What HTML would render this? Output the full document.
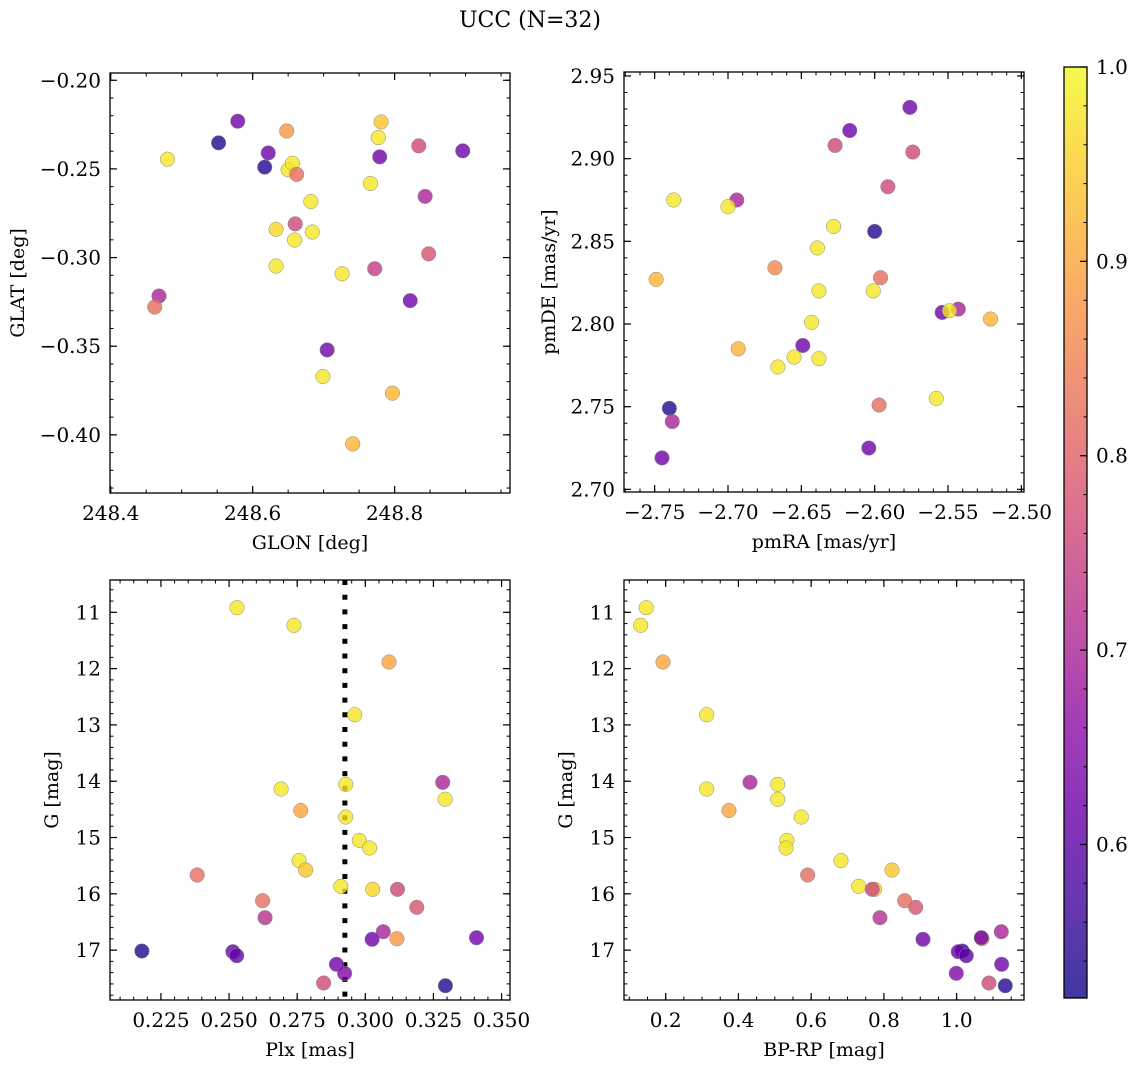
<!DOCTYPE html>
<html><head><meta charset="utf-8">
<style>
html,body{margin:0;padding:0;background:#fff;}
svg{display:block;font-family:"DejaVu Serif","Liberation Serif",serif;}
</style></head>
<body>
<svg id="fig" width="1136" height="1067" viewBox="0 0 1136 1067" xmlns="http://www.w3.org/2000/svg">
<text x="530" y="27" font-size="22" text-anchor="middle">UCC (N=32)</text>
</svg>
<script>
// ---- Panel 1 data: GLON vs GLAT ----
const glon = [248.480,248.552,248.579,248.617,248.622,248.648,248.650,248.656,248.662,248.633,248.633,248.660,248.659,248.682,248.684,248.726,248.699,248.705,248.741,248.766,248.772,248.777,248.781,248.779,248.797,248.834,248.843,248.848,248.822,248.896,248.468,248.462];
const glat = [-0.2445,-0.2353,-0.2231,-0.249,-0.241,-0.2286,-0.2505,-0.2468,-0.2531,-0.2841,-0.3048,-0.281,-0.2901,-0.2684,-0.2856,-0.3091,-0.3671,-0.3521,-0.4051,-0.2582,-0.3063,-0.2323,-0.2235,-0.2432,-0.3765,-0.237,-0.2655,-0.2979,-0.3243,-0.2398,-0.3217,-0.3279];
const prob1 = [0.98,0.54,0.62,0.54,0.62,0.88,0.98,0.98,0.82,0.96,0.98,0.76,0.98,0.98,0.98,0.98,0.98,0.62,0.92,0.98,0.74,0.98,0.94,0.62,0.92,0.76,0.70,0.78,0.62,0.62,0.70,0.82];
// ---- Panel 2 data: pmRA vs pmDE ----
const pmra = [-2.576,-2.617,-2.627,-2.574,-2.591,-2.737,-2.694,-2.700,-2.628,-2.600,-2.639,-2.668,-2.749,-2.596,-2.638,-2.601,-2.554,-2.543,-2.549,-2.521,-2.643,-2.649,-2.693,-2.655,-2.638,-2.666,-2.558,-2.597,-2.740,-2.738,-2.604,-2.745];
const pmde = [2.931,2.917,2.908,2.904,2.883,2.875,2.875,2.871,2.859,2.856,2.846,2.834,2.827,2.828,2.820,2.820,2.807,2.809,2.808,2.803,2.801,2.787,2.785,2.780,2.779,2.774,2.755,2.751,2.749,2.741,2.725,2.719];
const prob2 = [0.62,0.62,0.76,0.76,0.76,0.98,0.70,0.98,0.98,0.54,0.98,0.86,0.92,0.82,0.98,0.98,0.62,0.70,0.98,0.92,0.98,0.62,0.92,0.98,0.98,0.98,0.98,0.82,0.54,0.70,0.62,0.62];
// ---- Panels 3 & 4 data: Plx / BP-RP vs G ----
const plx = [0.2529,0.2738,0.3087,0.2961,0.3284,0.2928,0.2691,0.3293,0.2763,0.2928,0.2978,0.3016,0.2757,0.2781,0.2383,0.2910,0.3027,0.3118,0.3189,0.2623,0.2632,0.3066,0.3025,0.3116,0.3408,0.2180,0.2514,0.2528,0.2894,0.2924,0.2847,0.3294];
const gmag = [10.918,11.231,11.883,12.819,14.02,14.055,14.139,14.32,14.52,14.636,15.05,15.186,15.41,15.577,15.666,15.867,15.92,15.92,16.24,16.122,16.424,16.673,16.808,16.797,16.78,17.016,17.028,17.099,17.252,17.412,17.584,17.632];
const bprp = [0.1467,0.1313,0.1926,0.3127,0.4318,0.5079,0.3127,0.5079,0.374,0.5729,0.5335,0.5308,0.682,0.8222,0.5904,0.7306,0.7746,0.768,0.8874,0.8571,0.7892,1.1228,0.9075,1.0697,1.0678,1.0155,1.0045,1.0265,1.1238,0.999,1.0889,1.1337];
const prob3 = [0.98,0.98,0.90,0.98,0.70,0.98,0.98,0.98,0.90,0.98,0.98,0.98,0.98,0.94,0.82,0.98,0.96,0.76,0.78,0.82,0.72,0.70,0.62,0.88,0.62,0.54,0.62,0.60,0.62,0.64,0.76,0.54];
const plxLine = [0.2925];
// ---- tick arrays ----
const p1xTicks = [248.4,248.6,248.8];
const p1xLabels = ["248.4","248.6","248.8"];
const p1yTicks = [-0.20,-0.25,-0.30,-0.35,-0.40];
const p1yLabels = ["\u22120.20","\u22120.25","\u22120.30","\u22120.35","\u22120.40"];
const p2xTicks = [-2.75,-2.70,-2.65,-2.60,-2.55,-2.50];
const p2xLabels = ["\u22122.75","\u22122.70","\u22122.65","\u22122.60","\u22122.55","\u22122.50"];
const p2yTicks = [2.70,2.75,2.80,2.85,2.90,2.95];
const p2yLabels = ["2.70","2.75","2.80","2.85","2.90","2.95"];
const p3xTicks = [0.225,0.250,0.275,0.300,0.325,0.350];
const p3xLabels = ["0.225","0.250","0.275","0.300","0.325","0.350"];
const gTicks = [11,12,13,14,15,16,17];
const gLabels = ["11","12","13","14","15","16","17"];
const p4xTicks = [0.2,0.4,0.6,0.8,1.0];
const p4xLabels = ["0.2","0.4","0.6","0.8","1.0"];
const cbTicks = [0.6,0.7,0.8,0.9,1.0];
const cbLabels = ["0.6","0.7","0.8","0.9","1.0"];
const vmin = 0.521, vmax = 1.0;

const NS = "http://www.w3.org/2000/svg";
const svg = document.getElementById('fig');
function mk(tag, attrs, parent){
  const e = document.createElementNS(NS, tag);
  for (const k in attrs) e.setAttribute(k, attrs[k]);
  (parent||svg).appendChild(e);
  return e;
}
const stops = ["#0d0887","#41049d","#6a00a8","#8f0da4","#b12a90","#cc4778","#e16462","#f2844b","#fca636","#fcce25","#f0f921"];
function hex(h){return [parseInt(h.substr(1,2),16),parseInt(h.substr(3,2),16),parseInt(h.substr(5,2),16)];}
function plasma(v){
  let t=(v-vmin)/(vmax-vmin); t=Math.max(0,Math.min(1,t));
  const f=t*10, i=Math.min(9,Math.floor(f)), r=f-i;
  const a=hex(stops[i]), b=hex(stops[i+1]);
  return 'rgb('+a.map((c,k)=>Math.round(c+(b[k]-c)*r)).join(',')+')';
}
function linear(d0,d1,r0,r1){return v=>r0+(v-d0)/(d1-d0)*(r1-r0);}
const FS = 20;

function panel(cfg){
  const g = mk('g',{});
  
  
  const {x0,y0,w,h} = cfg;
  const sx = linear(cfg.xd[0],cfg.xd[1],x0,x0+w);
  const sy = linear(cfg.yd[0],cfg.yd[1],y0,y0+h);
  const mt = mk('g',{stroke:'#000','stroke-width':1},g);
  
  
  const xa=Math.min(cfg.xd[0],cfg.xd[1]), xb=Math.max(cfg.xd[0],cfg.xd[1]);
  for(let k=Math.ceil(xa/cfg.xm-1e-6);k*cfg.xm<=xb+1e-9;k++){
    const X=sx(k*cfg.xm);
    mk('line',{x1:X,x2:X,y1:y0+h,y2:y0+h-3.5},mt);
    mk('line',{x1:X,x2:X,y1:y0,y2:y0+3.5},mt);
  }
  const ya=Math.min(cfg.yd[0],cfg.yd[1]), yb=Math.max(cfg.yd[0],cfg.yd[1]);
  for(let k=Math.ceil(ya/cfg.ym-1e-6);k*cfg.ym<=yb+1e-9;k++){
    const Y=sy(k*cfg.ym);
    mk('line',{x1:x0,x2:x0+3.5,y1:Y,y2:Y},mt);
    mk('line',{x1:x0+w,x2:x0+w-3.5,y1:Y,y2:Y},mt);
  }
  cfg.xt.forEach((v,i)=>{
    const X=sx(v);
    mk('line',{x1:X,x2:X,y1:y0+h,y2:y0+h-7,stroke:'#000','stroke-width':1.2},g);
    mk('line',{x1:X,x2:X,y1:y0,y2:y0+7,stroke:'#000','stroke-width':1.2},g);
    const t=mk('text',{x:X,y:y0+h+27,'font-size':FS,'text-anchor':'middle'},g);
    
    
    t.textContent=cfg.xl[i];
  });
  cfg.yt.forEach((v,i)=>{
    const Y=sy(v);
    mk('line',{x1:x0,x2:x0+7,y1:Y,y2:Y,stroke:'#000','stroke-width':1.2},g);
    mk('line',{x1:x0+w,x2:x0+w-7,y1:Y,y2:Y,stroke:'#000','stroke-width':1.2},g);
    const t=mk('text',{x:x0-9,y:Y+7,'font-size':FS,'text-anchor':'end'},g);
    
    
    t.textContent=cfg.yl[i];
  });
  if(cfg.vline){
    cfg.vline.forEach(v=>{
      const l=mk('line',{x1:sx(v),x2:sx(v),y1:y0,y2:y0+h,stroke:'#000','stroke-width':5,'stroke-dasharray':'5 9.7'},g);
      
      
    });
  }
  cfg.xs.forEach((v,i)=>{
    const c=mk('circle',{cx:sx(v),cy:sy(cfg.ys[i]),r:7.3,fill:plasma(cfg.c[i]),'fill-opacity':0.8,stroke:'#888','stroke-width':0.5},g);
    
    
  });
  const fr=mk('rect',{x:x0,y:y0,width:w,height:h,fill:'none',stroke:'#000','stroke-width':1.3},g);
  
  
  const xl=mk('text',{x:x0+w/2,y:y0+h+56,'font-size':FS-1,'text-anchor':'middle'},g);
  
  
  xl.textContent=cfg.xtitle;
  const yl=mk('text',{x:cfg.ytx,y:y0+h/2,'font-size':FS-1,'text-anchor':'middle',transform:'rotate(-90 '+cfg.ytx+' '+(y0+h/2)+')'},g);
  
  
  yl.textContent=cfg.ytitle;
}

panel({name:'glon-glat-panel',x0:110,y0:73,w:400,h:420,xd:[248.399,248.9626],yd:[-0.1959,-0.4328],xm:0.05,ym:0.01,
  xt:p1xTicks,xl:p1xLabels,yt:p1yTicks,yl:p1yLabels,xs:glon,ys:glat,c:prob1,xtitle:'GLON [deg]',ytitle:'GLAT [deg]',ytx:24});
panel({name:'pm-panel',x0:624,y0:72,w:400,h:420,xd:[-2.7709,-2.4982],yd:[2.9524,2.6984],xm:0.01,ym:0.01,
  xt:p2xTicks,xl:p2xLabels,yt:p2yTicks,yl:p2yLabels,xs:pmra,ys:pmde,c:prob2,xtitle:'pmRA [mas/yr]',ytitle:'pmDE [mas/yr]',ytx:555});
panel({name:'plx-g-panel',x0:110,y0:580,w:400,h:420,xd:[0.2063,0.3531],yd:[10.426,17.886],xm:0.005,ym:0.2,
  xt:p3xTicks,xl:p3xLabels,yt:gTicks,yl:gLabels,xs:plx,ys:gmag,c:prob3,vline:plxLine,xtitle:'Plx [mas]',ytitle:'G [mag]',ytx:58});
panel({name:'cmd-panel',x0:624,y0:580,w:400,h:420,xd:[0.0854,1.1852],yd:[10.426,17.886],xm:0.05,ym:0.2,
  xt:p4xTicks,xl:p4xLabels,yt:gTicks,yl:gLabels,xs:bprp,ys:gmag,c:prob3,xtitle:'BP-RP [mag]',ytitle:'G [mag]',ytx:572});

// colorbar
(function(){
  const x0=1064,y0=67,w=23,h=931;
  const cb=mk('g',{});
  
  
  const defs=mk('defs',{},cb);
  const lg=mk('linearGradient',{id:'cbgrad',x1:0,y1:1,x2:0,y2:0},defs);
  for(let i=0;i<=20;i++){
    const v=vmin+(vmax-vmin)*i/20;
    mk('stop',{offset:(i/20),'stop-color':plasma(v)},lg);
  }
  const bar=mk('rect',{x:x0,y:y0,width:w,height:h,fill:'url(#cbgrad)','fill-opacity':0.8},cb);
  
  
  const sy=linear(vmin,vmax,y0+h,y0);
  for(let k=27;k<=50;k++){
    const Y=sy(k*0.02);
    if(Y<y0-0.5||Y>y0+h) continue;
    mk('line',{x1:x0+w,x2:x0+w-3.5,y1:Y,y2:Y,stroke:'#000'},cb);
  }
  cbTicks.forEach((v,i)=>{
    const Y=sy(v);
    mk('line',{x1:x0+w,x2:x0+w-7,y1:Y,y2:Y,stroke:'#000','stroke-width':1.2},cb);
    const t=mk('text',{x:x0+w+9,y:Y+7,'font-size':FS},cb);
    
    
    t.textContent=cbLabels[i];
  });
  mk('rect',{x:x0,y:y0,width:w,height:h,fill:'none',stroke:'#000','stroke-width':1.3},cb);
})();
</script>
</body></html>
